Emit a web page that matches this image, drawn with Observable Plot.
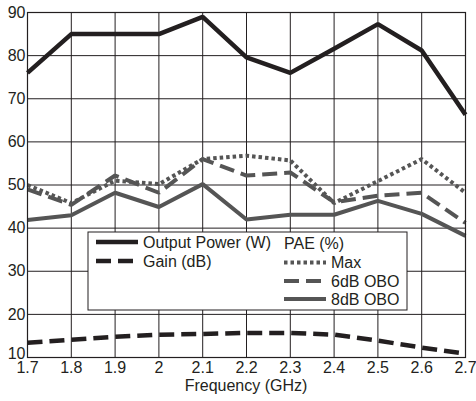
<!DOCTYPE html>
<html>
<head>
<meta charset="utf-8">
<script src="https://cdn.jsdelivr.net/npm/d3@7"></script>
<script src="https://cdn.jsdelivr.net/npm/@observablehq/plot@0.6"></script>
<style>
  html, body { margin: 0; padding: 0; background: #fff; }
  #chart { position: relative; width: 476px; height: 401px; }
  svg { font-family: "Liberation Sans", Arial, sans-serif; }
</style>
</head>
<body>
<div id="chart"></div>
<script>
const freq = [1.7, 1.8, 1.9, 2.0, 2.1, 2.2, 2.3, 2.4, 2.5, 2.6, 2.7];
const outputPower = [76, 85, 85, 85, 89, 79.6, 76, 81.6, 87.3, 81.2, 66.3];
const gain = [13.4, 14.1, 14.8, 15.3, 15.45, 15.7, 15.7, 15.3, 13.9, 12.3, 10.9];
const paeMax = [50, 45.8, 51, 50.2, 56, 56.8, 55.7, 45.8, 50.9, 56, 48.2];
const pae6dB = [49, 45.4, 52.2, 48.2, 56, 52.2, 52.9, 46, 47.5, 48.2, 41.2];
const pae8dB = [41.9, 43, 48.2, 44.9, 50.2, 42, 43.1, 43.1, 46.3, 43.3, 38.2];
const xTicks = [1.7, 1.8, 1.9, 2.0, 2.1, 2.2, 2.3, 2.4, 2.5, 2.6, 2.7];
const xTickLabels = ["1.7", "1.8", "1.9", "2", "2.1", "2.2", "2.3", "2.4", "2.5", "2.6", "2.7"];
const yTicks = [10, 20, 30, 40, 50, 60, 70, 80, 90];
const xLabel = "Frequency (GHz)";

const BLACK = "#231f20";
const GRAY = "#555555";

const series = [
  {name: "Output Power (W)", values: outputPower, stroke: BLACK, dash: null, width: 4.5},
  {name: "Gain (dB)", values: gain, stroke: BLACK, dash: "15,7", width: 4.5},
  {name: "Max", values: paeMax, stroke: GRAY, dash: "3.5,3", width: 4},
  {name: "6dB OBO", values: pae6dB, stroke: GRAY, dash: "15,7", width: 4},
  {name: "8dB OBO", values: pae8dB, stroke: GRAY, dash: null, width: 4}
];

const lineMarks = series.map(s =>
  Plot.line(freq.map((f, i) => ({f, v: s.values[i]})), {
    x: "f", y: "v", stroke: s.stroke, strokeWidth: s.width,
    strokeDasharray: s.dash, strokeLinejoin: "miter", strokeLinecap: "butt"
  })
);

const plot = Plot.plot({
  width: 476,
  height: 401,
  marginLeft: 27,
  marginRight: 11,
  marginTop: 12,
  marginBottom: 44,
  style: {fontFamily: "'Liberation Sans', Arial, sans-serif", fontSize: "16px", color: BLACK, background: "#fff"},
  x: {domain: [1.7, 2.7], label: null},
  y: {domain: [10, 90], label: null},
  marks: [
    Plot.gridX(xTicks, {stroke: BLACK, strokeOpacity: 1, strokeWidth: 1}),
    Plot.gridY(yTicks, {stroke: BLACK, strokeOpacity: 1, strokeWidth: 1}),
    ...lineMarks,
    Plot.frame({stroke: BLACK, strokeWidth: 1.2}),
    Plot.axisX(xTicks, {tickSize: 0, tickPadding: 4, tickFormat: (d, i) => xTickLabels[i], label: null, fontSize: 16}),
    Plot.axisY(yTicks.slice(1), {tickSize: 0, tickPadding: 2, label: null, fontSize: 16}),
    Plot.axisY(yTicks.slice(0, 1), {tickSize: 0, tickPadding: 2, label: null, fontSize: 16, dy: -4})
  ]
});

document.getElementById("chart").appendChild(plot);

const svg = d3.select(plot);
svg.append("text")
  .attr("x", 246).attr("y", 391)
  .attr("text-anchor", "middle")
  .attr("font-size", 16)
  .attr("fill", BLACK)
  .text(xLabel);

// Legend
const lg = svg.append("g").attr("font-size", 16).attr("fill", BLACK).attr("text-anchor", "start");
lg.append("rect").attr("x", 88).attr("y", 232).attr("width", 319).attr("height", 78)
  .attr("fill", "#fff").attr("stroke", BLACK).attr("stroke-width", 1);
const leftItems = [
  {s: series[0], y: 242},
  {s: series[1], y: 261}
];
leftItems.forEach(({s, y}) => {
  lg.append("line").attr("x1", 96).attr("x2", 138).attr("y1", y).attr("y2", y)
    .attr("stroke", s.stroke).attr("stroke-width", s.width)
    .attr("stroke-dasharray", s.dash);
  lg.append("text").attr("x", 143).attr("y", y).attr("dy", "0.35em").attr("text-anchor", "start").text(s.name);
});
lg.append("text").attr("x", 284).attr("y", 243).attr("dy", "0.35em").attr("text-anchor", "start").text("PAE (%)");
const rightItems = [
  {s: series[2], y: 262.5},
  {s: series[3], y: 281},
  {s: series[4], y: 299}
];
rightItems.forEach(({s, y}) => {
  lg.append("line").attr("x1", 284).attr("x2", 326).attr("y1", y).attr("y2", y)
    .attr("stroke", s.stroke).attr("stroke-width", s.width)
    .attr("stroke-dasharray", s.dash);
  lg.append("text").attr("x", 331).attr("y", y).attr("dy", "0.35em").attr("text-anchor", "start").text(s.name);
});
</script>
</body>
</html>
